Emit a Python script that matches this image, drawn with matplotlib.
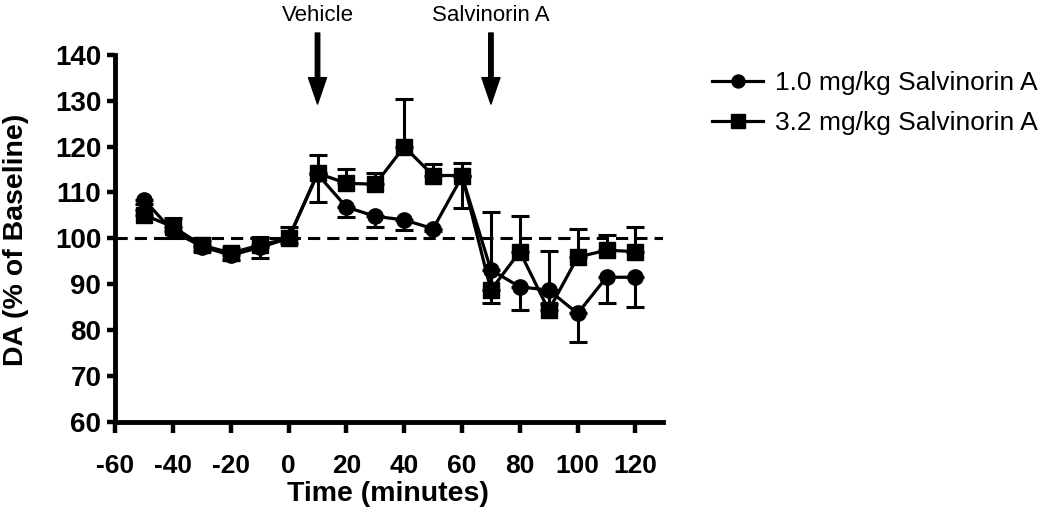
import matplotlib
matplotlib.use("Agg")
import matplotlib.pyplot as plt

plt.rcParams['font.family'] = ['Liberation Sans', 'DejaVu Sans']

# ---- data ----
time_min = [-50, -40, -30, -20, -10, 0, 10, 20, 30, 40, 50, 60, 70, 80, 90, 100, 110, 120]
low_dose = [108.4, 101.5, 98.2, 96.3, 98.0, 100.0, 114.0, 106.8, 104.8, 104.0, 102.1, 113.5,
            93.1, 89.4, 88.7, 83.6, 91.5, 91.5]
low_dose_err = [1.0, 1.5, 1.0, 1.0, 2.3, 1.0, 6.0, 2.1, 2.3, 2.2, 0.5, 6.9,
                7.3, 5.1, 3.0, 6.2, 5.7, 6.4]
high_dose = [105.1, 102.5, 98.5, 96.8, 98.5, 100.0, 114.2, 112.0, 111.8, 120.0, 113.7, 113.7,
             88.7, 97.1, 84.3, 95.9, 97.4, 97.1]
high_dose_err = [1.0, 1.9, 1.0, 1.0, 1.8, 2.5, 4.0, 3.1, 2.5, 10.3, 2.5, 2.8,
                 17.1, 7.8, 13.0, 6.1, 3.3, 5.4]
series_labels = ['1.0 mg/kg Salvinorin A', '3.2 mg/kg Salvinorin A']
x_ticks = [-60, -40, -20, 0, 20, 40, 60, 80, 100, 120]
y_ticks = [60, 70, 80, 90, 100, 110, 120, 130, 140]
events = [(10, 'Vehicle'), (70, 'Salvinorin A')]
baseline = 100

fig = plt.figure(figsize=(10.5, 5.13), dpi=100)
W, H = 1050, 513
ax = fig.add_axes([115.2 / W, (H - 421.6) / H, 547.7 / W, (421.6 - 55) / H])

# baseline dashed line
ax.axhline(baseline, color='black', lw=2.2, ls=(0, (4, 2.3)), zorder=1)

# error bars: circles downward, squares upward
ax.errorbar(time_min, low_dose, yerr=[low_dose_err, [0] * len(low_dose_err)], fmt='none',
            ecolor='black', elinewidth=2.2, capsize=6.5, capthick=2.2, zorder=2)
ax.errorbar(time_min, high_dose, yerr=[[0] * len(high_dose_err), high_dose_err], fmt='none',
            ecolor='black', elinewidth=2.2, capsize=6.5, capthick=2.2, zorder=2)

l1, = ax.plot(time_min, low_dose, color='black', lw=2.3, marker='o', ms=11, zorder=3,
              label=series_labels[0], clip_on=False)
l2, = ax.plot(time_min, high_dose, color='black', lw=2.3, marker='s', ms=12, zorder=4,
              label=series_labels[1], clip_on=False)

ax.set_xlim(-60, 129.5)
ax.set_ylim(60, 140)
ax.set_xticks(x_ticks)
ax.set_yticks(y_ticks)
ax.set_xticklabels([str(v) for v in x_ticks])
ax.set_yticklabels([str(v) for v in y_ticks])

for s in ['top', 'right']:
    ax.spines[s].set_visible(False)
for s in ['left', 'bottom']:
    ax.spines[s].set_linewidth(3.5)
ax.tick_params(axis='both', direction='out', width=3.2)
ax.tick_params(axis='y', length=6, pad=4, labelsize=20)
ax.tick_params(axis='x', length=8, pad=15, labelsize=19)
for lab in ax.get_xticklabels() + ax.get_yticklabels():
    lab.set_fontweight('bold')

# axis titles
fig.text(388 / W, 1 - 494 / H, 'Time (minutes)', ha='center', va='center',
         fontsize=20.5, fontweight='bold')
fig.text(16 / W, 1 - 240 / H, 'DA (% of Baseline)', ha='center', va='center',
         rotation=90, fontsize=20.5, fontweight='bold')

# event arrows
for ex, etext in events:
    ax.annotate('', xy=(ex, 129.3), xytext=(ex, 144.8), annotation_clip=False,
                arrowprops=dict(facecolor='black', edgecolor='black', width=3.2,
                                headwidth=13, headlength=19, shrink=0))
    ax.text(ex, 148.6, etext, ha='center', va='center', fontsize=16, clip_on=False)

fig.legend(handles=[l1, l2], loc='upper left', bbox_to_anchor=(712 / W, 1 - 71 / H),
           frameon=False, fontsize=19, handlelength=1.95, handletextpad=0.42,
           labelspacing=0.62, borderpad=0, borderaxespad=0, markerscale=0.85)

fig.savefig('out.png', dpi=100)
